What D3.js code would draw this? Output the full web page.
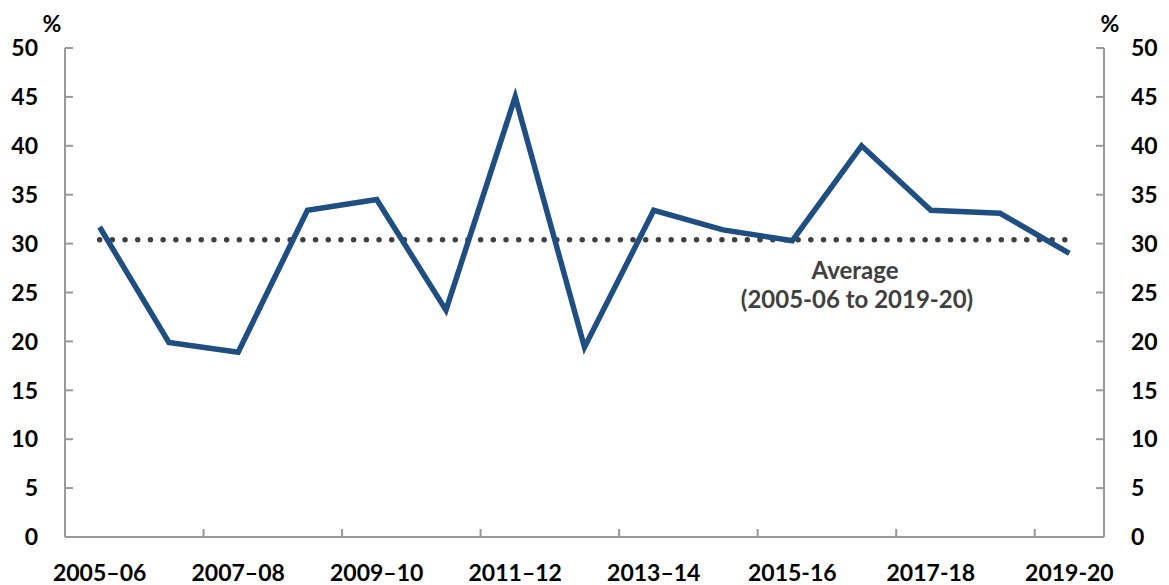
<!DOCTYPE html>
<html><head><meta charset="utf-8">
<script src="https://cdn.jsdelivr.net/npm/d3@7"></script>
<style>body{margin:0;background:#fff}text{font-family:Lato,"Open Sans",sans-serif}</style>
</head><body><svg id="c" width="1169" height="585"></svg>
<script>
const categories = ["2005–06","2006–07","2007–08","2008–09","2009–10","2010–11","2011–12","2012–13","2013–14","2014–15","2015-16","2016-17","2017-18","2018-19","2019-20"];
const values = [31.7,19.9,18.9,33.4,34.5,23.2,45.0,19.4,33.4,31.4,30.3,40.0,33.4,33.1,29.0];
const averageValue = 30.4;
const yTicks = [0,5,10,15,20,25,30,35,40,45,50];

const svg = d3.select("#c");
const L = 65, R = 1104, T = 48, B = 537;
const x = d3.scaleBand().domain(categories).range([L, R]);
const y = d3.scaleLinear().domain([0, 50]).range([B, T]);
const axisCol = "#999";
const FS = 23;

const g = svg.append("g");
g.append("line").attr("x1",L).attr("x2",L).attr("y1",T).attr("y2",B).attr("stroke",axisCol).attr("stroke-width",2);
g.append("line").attr("x1",R).attr("x2",R).attr("y1",T).attr("y2",B).attr("stroke",axisCol).attr("stroke-width",2);
g.append("line").attr("x1",L).attr("x2",R).attr("y1",B).attr("y2",B).attr("stroke",axisCol).attr("stroke-width",2);

yTicks.forEach(t=>{
  g.append("line").attr("x1",L).attr("x2",L+8).attr("y1",y(t)).attr("y2",y(t)).attr("stroke",axisCol).attr("stroke-width",2);
  g.append("line").attr("x1",R-8).attr("x2",R).attr("y1",y(t)).attr("y2",y(t)).attr("stroke",axisCol).attr("stroke-width",2);
  g.append("text").attr("x",38).attr("y",y(t)).attr("dy","0.36em").attr("text-anchor","end")
    .attr("font-size",FS).attr("font-weight","bold").attr("fill","#000").text(t);
  g.append("text").attr("x",1131).attr("y",y(t)).attr("dy","0.36em").attr("text-anchor","start")
    .attr("font-size",FS).attr("font-weight","bold").attr("fill","#000").text(t);
});
g.append("text").attr("x",52).attr("y",24).attr("dy","0.36em").attr("text-anchor","middle").attr("font-size",FS).attr("font-weight","bold").text("%");
g.append("text").attr("x",1110).attr("y",24).attr("dy","0.36em").attr("text-anchor","middle").attr("font-size",FS).attr("font-weight","bold").text("%");

categories.forEach((c,i)=>{
  if(i>0 && i%2===0){
    const xx = x(c);
    g.append("line").attr("x1",xx).attr("x2",xx).attr("y1",B).attr("y2",B-8).attr("stroke",axisCol).attr("stroke-width",2);
  }
  if(i%2===0){
    g.append("text").attr("x",x(c)+x.bandwidth()/2).attr("y",573).attr("dy","0.36em").attr("text-anchor","middle")
      .attr("font-size",FS).attr("font-weight","bold").attr("fill","#000").text(c);
  }
});

const x0 = x(categories[0])+x.bandwidth()/2, x1 = x(categories[categories.length-1])+x.bandwidth()/2;
svg.append("line").attr("x1",x0).attr("x2",x1).attr("y1",y(averageValue)).attr("y2",y(averageValue))
  .attr("stroke","#404040").attr("stroke-width",5.5).attr("stroke-linecap","round").attr("stroke-dasharray","0 12.7");

const line = d3.line().x((d,i)=>x(categories[i])+x.bandwidth()/2).y(d=>y(d));
svg.append("path").datum(values).attr("d",line).attr("fill","none").attr("stroke","#1f4e82").attr("stroke-width",5.5).attr("stroke-linejoin","miter");

svg.append("text").attr("x",855).attr("y",270).attr("dy","0.36em").attr("text-anchor","middle").attr("font-size",24).attr("font-weight","bold").attr("fill","#404040").text("Average");
svg.append("text").attr("x",857).attr("y",299).attr("dy","0.36em").attr("text-anchor","middle").attr("font-size",24).attr("font-weight","bold").attr("fill","#404040").text("(2005-06 to 2019-20)");
</script></body></html>
